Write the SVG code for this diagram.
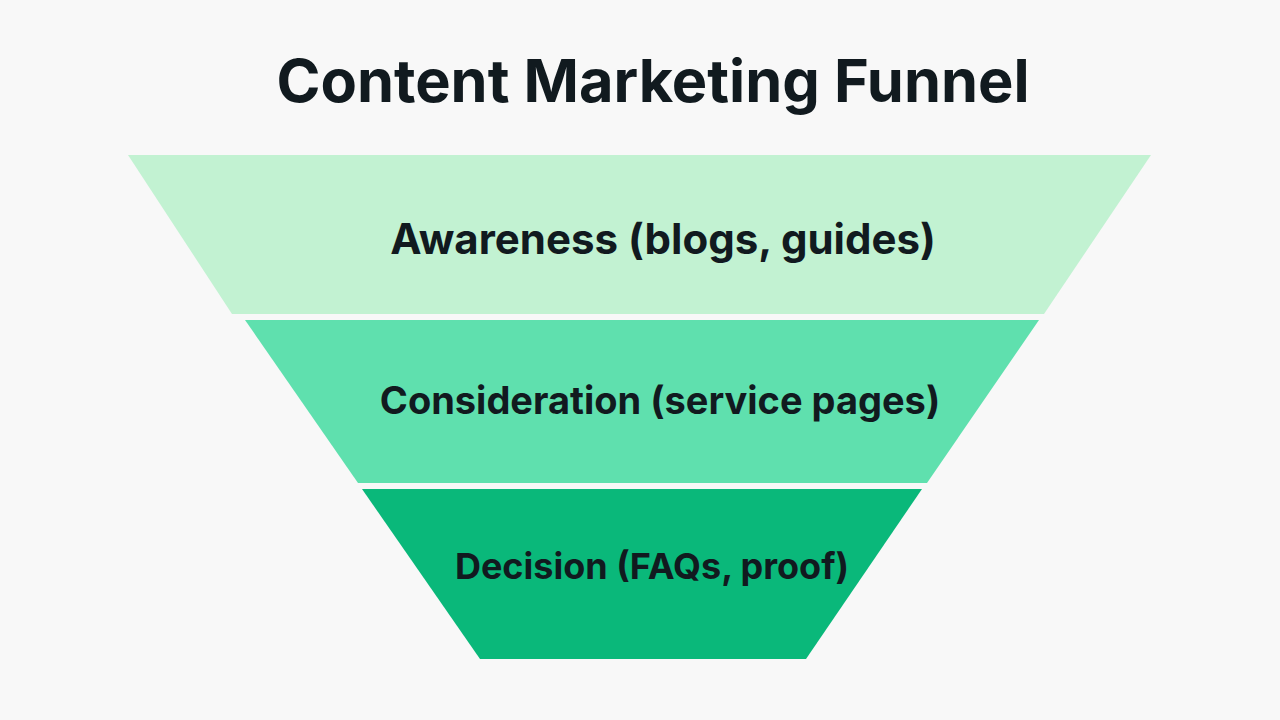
<svg xmlns="http://www.w3.org/2000/svg" width="1280" height="720" viewBox="0 0 1280 720">
<style>
.t{font-family:Inter,"Liberation Sans",sans-serif;font-weight:700;fill:#111a1f;text-anchor:middle;dominant-baseline:central}
</style>
<rect width="1280" height="720" fill="#f8f8f8"/>
<text class="t" x="653" y="80" font-size="59.5" font-weight="800">Content Marketing Funnel</text>
<g id="awareness">
<polygon points="128,155 1151,155 1044,314 232,314" fill="#c2f2d2"/>
<text class="t" x="663" y="238" font-size="42">Awareness (blogs, guides)</text>
</g>
<g id="consideration">
<polygon points="245,320 1039,320 927,483 358,483" fill="#5fe0ae"/>
<text class="t" x="660" y="400" font-size="38">Consideration (service pages)</text>
</g>
<g id="decision">
<polygon points="362,489 922,489 806,659 480,659" fill="#0ab87a"/>
<text class="t" x="652" y="566" font-size="36">Decision (FAQs, proof)</text>
</g>
<g id="connectors"/>
</svg>
